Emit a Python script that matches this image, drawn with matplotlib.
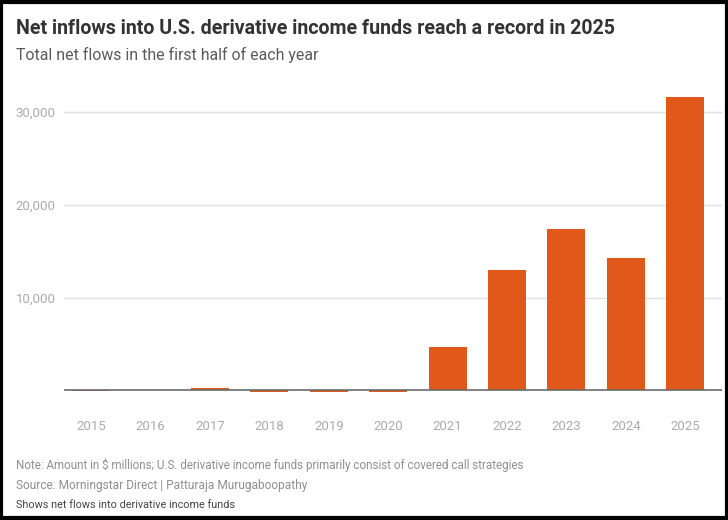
import matplotlib.pyplot as plt
from matplotlib.patches import Rectangle

years = ['2015', '2016', '2017', '2018', '2019', '2020',
         '2021', '2022', '2023', '2024', '2025']
net_flows = [-100, 0, 300, -150, -200, -150, 4650, 12950, 17400, 14250, 31600]
y_ticks = [10000, 20000, 30000]
y_labels = ['10,000', '20,000', '30,000']

plt.rcParams['font.family'] = ['Roboto', 'DejaVu Sans']

fig = plt.figure(figsize=(7.28, 5.2), dpi=100)
ax = fig.add_axes([64 / 728, 1 - 395 / 520, (722 - 64) / 728, (395 - 88) / 520])

x = range(len(years))
ax.bar(x, net_flows, width=0.64, color='#e0581a', zorder=3)
ax.axhline(0, color='#6b6b6b', lw=1.2, zorder=4)

ax.set_xlim(-0.46, 10.62)
ax.set_ylim(-500, 32600)
ax.set_yticks(y_ticks)
ax.set_yticklabels(y_labels)
ax.set_xticks(list(x))
ax.set_xticklabels(years)
ax.grid(axis='y', color='#e0e0e0', lw=1, zorder=0)
for s in ax.spines.values():
    s.set_visible(False)
ax.tick_params(axis='both', length=0, labelcolor='#ababab', labelsize=9.5)
ax.tick_params(axis='x', pad=18)
ax.tick_params(axis='y', pad=6)

# (text, y px, target width px, colour, weight)
texts = [
    ('Net inflows into U.S. derivative income funds reach a record in 2025', 28, 602, '#333333', 'bold'),
    ('Total net flows in the first half of each year', 55, 302, '#5a5a5a', 'normal'),
    ('Note: Amount in $ millions; U.S. derivative income funds primarily consist of covered call strategies',
     465, 510, '#8f8f8f', 'normal'),
    ('Source: Morningstar Direct | Patturaja Murugaboopathy', 486, 290, '#8f8f8f', 'normal'),
    ('Shows net flows into derivative income funds', 505, 220, '#444444', 'normal'),
]
renderer = fig.canvas.get_renderer()
for s, ypx, wpx, col, wt in texts:
    t = fig.text(16 / 728, 1 - ypx / 520, s, fontsize=10, color=col, fontweight=wt, va='center')
    w = t.get_window_extent(renderer).width
    t.set_fontsize(10 * wpx / w)

fig.patches.append(Rectangle((0.002, 0.003), 0.996, 0.994, transform=fig.transFigure,
                             fill=False, edgecolor='black', lw=3))

fig.savefig('out.png', dpi=100)
